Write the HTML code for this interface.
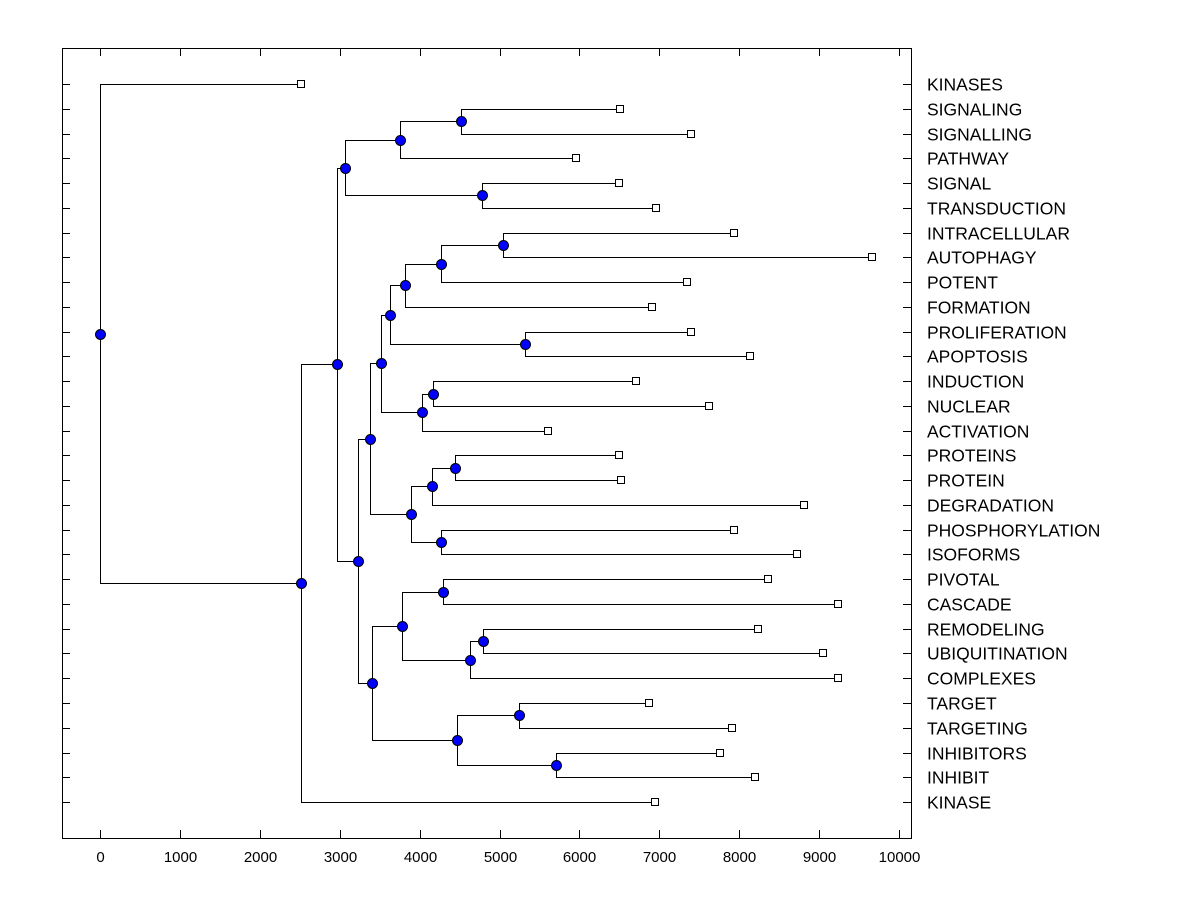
<!DOCTYPE html>
<html><head><meta charset="utf-8"><style>
body{margin:0;background:#fff;}
svg{display:block;font-family:"Liberation Sans",Arial,sans-serif;}
</style></head><body>
<svg id="chart" width="1200" height="900" viewBox="0 0 1200 900">
<rect x="62.5" y="48.5" width="849" height="790" fill="#fff" stroke="#000" stroke-width="1" shape-rendering="crispEdges"/>
<g id="axes"></g><g id="links" shape-rendering="crispEdges"></g><g id="marks"></g>
</svg>
<script>
const leafNames = ["KINASES","SIGNALING","SIGNALLING","PATHWAY","SIGNAL","TRANSDUCTION","INTRACELLULAR","AUTOPHAGY","POTENT","FORMATION","PROLIFERATION","APOPTOSIS","INDUCTION","NUCLEAR","ACTIVATION","PROTEINS","PROTEIN","DEGRADATION","PHOSPHORYLATION","ISOFORMS","PIVOTAL","CASCADE","REMODELING","UBIQUITINATION","COMPLEXES","TARGET","TARGETING","INHIBITORS","INHIBIT","KINASE"];
const leafValues = [2516,6508,7397,5957,6496,6959,7935,9662,7347,6909,7397,8135,6708,7622,5607,6496,6521,8811,7935,8723,8360,9237,8235,9049,9237,6871,7910,7760,8198,6946];
const nodeNames = ["root","A","B","C","E","G","F","D","H","J","L","N","P","Q","O","M","R","K","S","U","T","I","V","X","Y","Z","W","AA","AB"];
const nodeHeights = [0,2516,2966,3066,3755,4518,4781,3229,3379,3517,3629,3817,4268,5044,5319,4030,4168,3892,4155,4443,4268,3404,3780,4293,4631,4793,4468,5244,5707];
const nodeChildren = [[0,"A"],["B",29],["C","D"],["E","F"],["G",3],[1,2],[4,5],["H","I"],["J","K"],["L","M"],["N","O"],["P",9],["Q",8],[6,7],[10,11],["R",14],[12,13],["S","T"],["U",17],[15,16],[18,19],["V","W"],["X","Y"],[20,21],["Z",24],[22,23],["AA","AB"],[25,26],[27,28]];
const xTicks = [0,1000,2000,3000,4000,5000,6000,7000,8000,9000,10000];

const NS="http://www.w3.org/2000/svg";
const X0=100, XS=79.9/1000, Y0=84, YS=24.76;
const xs=v=>Math.round(X0+v*XS)+0.5, ys=i=>Y0+i*YS;
const py=y=>Math.round(y)+0.5;
function mk(tag,attrs,parent){const e=document.createElementNS(NS,tag);for(const k in attrs)e.setAttribute(k,attrs[k]);document.getElementById(parent).appendChild(e);return e;}
xTicks.forEach(t=>{const x=xs(t);
 let l=mk("line",{x1:x,x2:x,y1:838,y2:830,stroke:"#000","shape-rendering":"crispEdges"},"axes");
 
 
 l=mk("line",{x1:x,x2:x,y1:48,y2:56,stroke:"#000","shape-rendering":"crispEdges"},"axes");
 
 
 const tx=mk("text",{x:x,y:862,"text-anchor":"middle","font-size":"15"},"axes");tx.textContent=t;
 
 
});
leafNames.forEach((n,i)=>{const y=py(ys(i));
 let l=mk("line",{x1:62,x2:70,y1:y,y2:y,stroke:"#000","shape-rendering":"crispEdges"},"axes");
 
 
 l=mk("line",{x1:903,x2:911,y1:y,y2:y,stroke:"#000","shape-rendering":"crispEdges"},"axes");
 
 
 const tx=mk("text",{x:927,y:y+6,"font-size":"17.5"},"axes");tx.textContent=n;
 
 
});
const pos={};
function place(c){ if(typeof c==="number") return {x:xs(leafValues[c]),y:ys(c)};
 if(pos[c])return pos[c]; const k=nodeNames.indexOf(c);
 const ch=nodeChildren[k].map(place); const p={x:xs(nodeHeights[k]),y:(ch[0].y+ch[1].y)/2,ch:ch};
 pos[c]=p; return p;}
place("root");
for(const name in pos){const p=pos[name];
 const path=mk("path",{d:`M${p.ch[0].x},${py(p.ch[0].y)}H${p.x}V${py(p.ch[1].y)}H${p.ch[1].x}`,fill:"none",stroke:"#000","stroke-width":1},"links");
 
 
 const c=mk("circle",{cx:p.x,cy:py(p.y),r:5,fill:"#0000ff",stroke:"#000","stroke-width":1},"marks");
 
 
}
leafValues.forEach((v,i)=>{const r=mk("rect",{x:xs(v)-4,y:py(ys(i))-4,width:7,height:7,fill:"#fff",stroke:"#000","shape-rendering":"crispEdges"},"marks");
 
 
});
</script>
</body></html>
